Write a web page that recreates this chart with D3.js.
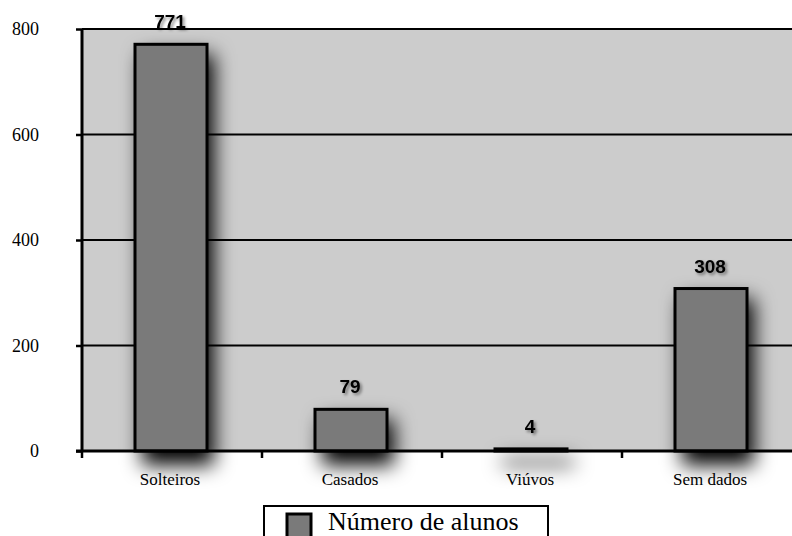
<!DOCTYPE html>
<html><head><meta charset="utf-8">
<script src="https://cdn.jsdelivr.net/npm/d3@7"></script>
<style>html,body{margin:0;padding:0;background:#fff;}svg{display:block;}</style>
</head><body>
<script>
const categories = ["Solteiros", "Casados", "Viúvos", "Sem dados"];
const values = [771, 79, 4, 308];
const yTicks = [0, 200, 400, 600, 800];
const seriesName = "Número de alunos";

(function () {
const W = 792, H = 536;
const serif = "'Liberation Serif', 'Times New Roman', serif";
const svg = d3.select("body").append("svg").attr("width", W).attr("height", H);
const defs = svg.append("defs");
const sh = defs.append("filter").attr("id", "shadow")
  .attr("x", "-20%").attr("y", "-20%").attr("width", "140%").attr("height", "140%");
sh.append("feGaussianBlur").attr("in", "SourceGraphic").attr("stdDeviation", 10);
const sh2 = defs.append("filter").attr("id", "tshadow").attr("x", "-50%").attr("y", "-50%").attr("width", "200%").attr("height", "200%");
sh2.append("feDropShadow").attr("dx", 2).attr("dy", 2).attr("stdDeviation", 1.5).attr("flood-color", "#000").attr("flood-opacity", 0.45);

const pLeft = 82, pRight = 802, pTop = 29, pBottom = 451;
const x = d3.scaleBand().domain(categories).range([pLeft, pRight]).paddingInner(0.6).paddingOuter(0.3);
const y = d3.scaleLinear().domain([0, 800]).range([pBottom, pTop]);

// plot background
svg.append("rect").attr("x", pLeft).attr("y", y(800)).attr("width", pRight - pLeft).attr("height", y(0) - y(800)).attr("fill", "#cccccc");

// shadows (blurred as one group)
svg.append("g").attr("filter", "url(#shadow)").selectAll("rect").data(values).join("rect")
  .attr("x", (d, i) => x(categories[i]) + 6)
  .attr("y", d => y(d) + 10)
  .attr("width", x.bandwidth())
  .attr("height", d => y(0) - y(d) + 4)
  .attr("fill", "#000");

// gridlines
svg.append("g").selectAll("line").data(yTicks.filter(t => t > 0)).join("line")
  .attr("x1", pLeft).attr("x2", pRight).attr("y1", d => y(d)).attr("y2", d => y(d))
  .attr("stroke", "#000").attr("stroke-width", 2);

// bars
svg.append("g").selectAll("rect").data(values).join("rect")
  .attr("x", (d, i) => x(categories[i]) - 1)
  .attr("y", d => y(d))
  .attr("width", x.bandwidth())
  .attr("height", d => y(0) - y(d))
  .attr("fill", "#7a7a7a").attr("stroke", "#000").attr("stroke-width", 3);

// y axis
const ya = svg.append("g").attr("transform", `translate(${pLeft},0)`)
  .call(d3.axisLeft(y).tickValues(yTicks).tickSize(6).tickPadding(37).tickFormat(d3.format("d")))
  .attr("font-family", serif).attr("font-size", 18);
ya.select(".domain").attr("stroke", "#000").attr("stroke-width", 3).attr("d", `M0,${y(0)}V${y(800)}`);
ya.selectAll(".tick line").attr("stroke", "#000").attr("stroke-width", 2.5);
ya.selectAll(".tick text").attr("font-family", serif).attr("font-size", 18).attr("fill", "#000");

// x axis
const xa = svg.append("g").attr("transform", `translate(0,${pBottom})`)
  .call(d3.axisBottom(x).tickSize(0).tickPadding(22))
  .attr("font-family", serif).attr("font-size", 17);
xa.select(".domain").remove();
xa.append("line").attr("x1", pLeft - 6).attr("x2", pRight).attr("stroke", "#000").attr("stroke-width", 3);
const bounds = [pLeft].concat(categories.map(c => x(c) - x.step() * x.paddingOuter() + x.step()));
xa.selectAll(".bnd").data(bounds).join("line").attr("class", "bnd")
  .attr("x1", d => d).attr("x2", d => d).attr("y1", 0).attr("y2", 7)
  .attr("stroke", "#000").attr("stroke-width", 2.5);
xa.selectAll(".tick text").attr("font-family", serif).attr("font-size", 17).attr("fill", "#000").attr("dx", -2);

// value labels
svg.append("g").selectAll("text").data(values).join("text")
  .attr("x", (d, i) => x(categories[i]) + x.bandwidth() / 2 - 2)
  .attr("y", d => y(d) - 16)
  .attr("text-anchor", "middle")
  .attr("font-family", "'Liberation Sans', Arial, sans-serif")
  .attr("font-weight", "bold").attr("font-size", 19).attr("fill", "#000")
  .attr("filter", "url(#tshadow)")
  .text(d => d);

// legend
const lg = svg.append("g");
lg.append("rect").attr("x", 264).attr("y", 506).attr("width", 284).attr("height", 40)
  .attr("fill", "#fff").attr("stroke", "#000").attr("stroke-width", 2);
lg.append("rect").attr("x", 287).attr("y", 514).attr("width", 24).attr("height", 24)
  .attr("fill", "#7a7a7a").attr("stroke", "#000").attr("stroke-width", 3);
lg.append("text").attr("x", 328).attr("y", 530)
  .attr("font-family", serif).attr("font-size", 26).attr("fill", "#000")
  .text(seriesName);
})();
</script>
</body></html>
